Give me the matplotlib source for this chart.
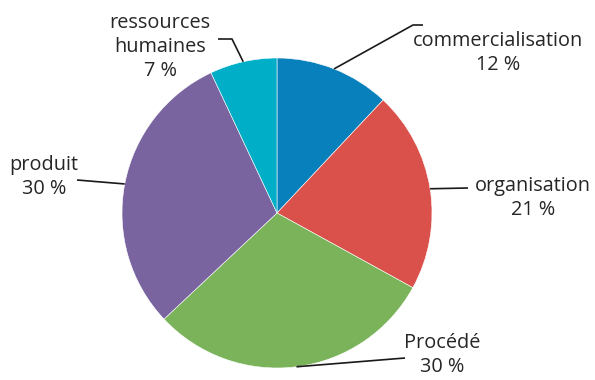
import matplotlib.pyplot as plt
import numpy as np

labels = ["commercialisation", "organisation", "Procédé", "produit", "ressources\nhumaines"]
values = [12, 21, 30, 30, 7]
colors = ["#0880bb", "#da514b", "#7bb35b", "#7964a0", "#00afc7"]

# label layout in pixels (origin top-left): leader path after the wedge edge, then text anchor
leader_paths = [
    [(413, 25), (423, 25)],
    [(468, 188)],
    [(405, 358)],
    [(77, 180)],
    [(232, 39), (218, 39)],
]
text_pos = [(498, 53), (533, 198), (442, 355), (44, 177), (160, 47)]

W, H = 595, 380
cx, cy, r = 277, 213, 155

plt.rcParams['font.family'] = ['Open Sans', 'DejaVu Sans']
fig = plt.figure(figsize=(W / 100, H / 100), dpi=100)
ax = fig.add_axes([0, 0, 1, 1])

wedges, _ = ax.pie(values, colors=colors, startangle=90, counterclock=False,
                   center=(cx, H - cy), radius=r, frame=True,
                   wedgeprops=dict(linewidth=0.4, edgecolor='white'))
ax.set_xlim(0, W)
ax.set_ylim(0, H)
ax.set_aspect('equal')
ax.axis('off')

for w, lab, val, path, (tx, ty) in zip(wedges, labels, values, leader_paths, text_pos):
    mid = np.deg2rad((w.theta1 + w.theta2) / 2)
    x0 = cx + r * np.cos(mid)
    y0 = (H - cy) + r * np.sin(mid)
    xs = [x0] + [p[0] for p in path]
    ys = [y0] + [H - p[1] for p in path]
    ax.plot(xs, ys, color='#1a1a1a', lw=1.2, solid_capstyle='butt')
    ax.text(tx, H - ty, f"{lab}\n{val} %", ha='center', va='center',
            fontsize=14.3, color='#262626', linespacing=1.28)

fig.savefig("out.png", dpi=100)
